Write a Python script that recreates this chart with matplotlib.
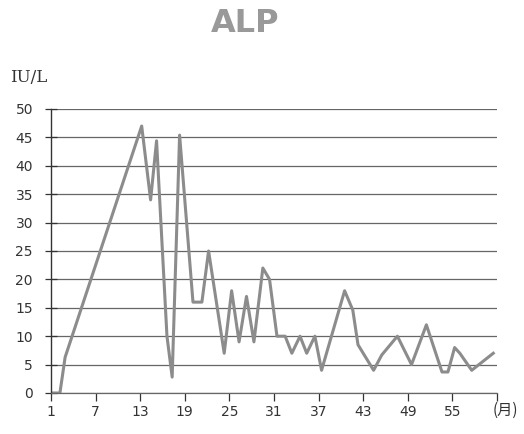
import numpy as np
import matplotlib
matplotlib.use("Agg")
import matplotlib.pyplot as plt

# ALP values (month, IU/L)
months = [1, 2.2, 2.9, 13.2, 14.4, 15.2, 16.6, 17.3, 18.3, 20.1, 21.3, 22.2,
          24.3, 25.3, 26.3, 27.3, 28.3, 29.5, 30.4, 31.4, 32.5, 33.4, 34.5,
          35.4, 36.5, 37.4, 40.5, 41.6, 42.3, 44.4, 45.5, 47.6, 49.5, 51.5,
          53.6, 54.4, 55.3, 56.0, 57.6, 60.5]
alp = [0, 0, 6.3, 47, 34, 44.4, 10, 2.8, 45.4, 16, 16, 25,
       7, 18, 9, 17, 9, 22, 20, 10, 10, 7, 10,
       7, 10, 4, 18, 14.6, 8.5, 4, 6.7, 10, 5, 12,
       3.7, 3.7, 8, 7, 4, 7]

xticks = [1, 7, 13, 19, 25, 31, 37, 43, 49, 55, 61]
xticklabels = ["1", "7", "13", "19", "25", "31", "37", "43", "49", "55", ""]
yticks = [0, 5, 10, 15, 20, 25, 30, 35, 40, 45, 50]

fig = plt.figure(figsize=(5.24, 4.34), dpi=100)
ax = fig.add_axes([51/524, 1-393/434, (497-51)/524, (393-109)/434])

ax.plot(months, alp, color="#8c8c8c", lw=2.2, solid_joinstyle="round")

ax.set_xlim(1, 61)
ax.set_ylim(0, 50)
ax.set_xticks(xticks)
ax.set_xticklabels(xticklabels)
ax.set_yticks(yticks)

ax.yaxis.grid(True, color="#666666", lw=0.9)
ax.set_axisbelow(True)

for s in ["top", "right"]:
    ax.spines[s].set_visible(False)
ax.spines["left"].set_color("#333333")
ax.spines["bottom"].set_color("#666666")
ax.spines["left"].set_linewidth(1.0)
ax.spines["bottom"].set_linewidth(0.9)

ax.tick_params(axis="y", direction="inout", length=8, width=0.9,
               color="#333333", pad=9, labelsize=10, labelcolor="#333333")
ax.tick_params(axis="x", direction="out", length=6, width=0.9,
               color="#333333", pad=3, labelsize=10, labelcolor="#333333")

fig.text(245/524, 1-24/434, "ALP", ha="center", va="center",
         fontsize=23, fontweight="bold", color="#999999")
fig.text(10/524, 1-78/434, "IU/L", ha="left", va="center",
         fontsize=12, family="DejaVu Serif", color="#333333")
fig.text(505/524, 1-410/434, "(月)", ha="center", va="center",
         fontsize=11, family=["Noto Sans CJK JP", "DejaVu Sans"], color="#333333")

fig.savefig("out.png", dpi=100, facecolor="white")
